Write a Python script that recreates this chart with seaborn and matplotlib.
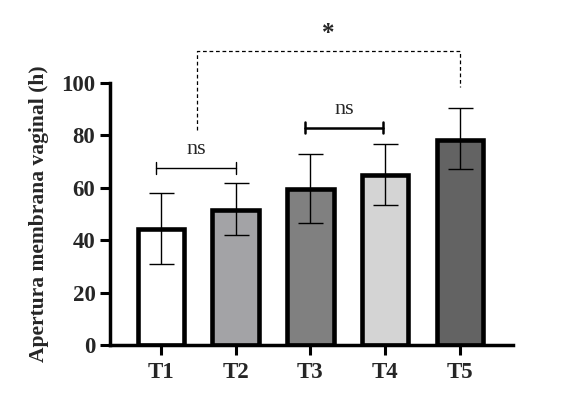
import matplotlib
matplotlib.use("Agg")
import matplotlib.pyplot as plt
import seaborn as sns
import numpy as np

# Chart data
groups = ["T1", "T2", "T3", "T4", "T5"]
means = [44.4, 51.7, 59.6, 64.7, 78.4]
err_low = [13.5, 9.7, 12.9, 11.4, 11.4]
err_high = [13.8, 10.1, 13.4, 12.0, 12.0]
bar_colors = ["#FFFFFF", "#A3A2A7", "#808080", "#D4D4D4", "#636363"]

sns.set_theme(style="ticks")
plt.rcParams["font.family"] = ["Liberation Serif", "DejaVu Serif"]

fig = plt.figure(figsize=(5.85, 4.08), dpi=100)
ax = fig.add_axes([110 / 585, 1 - 345 / 408, 403 / 585, 262 / 408])

sns.barplot(x=groups, y=means, hue=groups, palette=bar_colors, legend=False,
            width=0.62, edgecolor="black", linewidth=3.3, ax=ax, zorder=2)

xpos = np.arange(len(groups))
ax.errorbar(xpos, means, yerr=[err_low, err_high], fmt="none", ecolor="black",
            elinewidth=1.0, capsize=9, capthick=1.0, zorder=3)

ax.set_xlim(-0.68, 4.71)
ax.set_ylim(0, 100)
ax.set_yticks([0, 20, 40, 60, 80, 100])
ax.set_xlabel("")
ax.set_ylabel("Apertura membrana vaginal (h)", fontsize=15.5, fontweight="bold", labelpad=9)

for s in ["top", "right"]:
    ax.spines[s].set_visible(False)
for s in ["left", "bottom"]:
    ax.spines[s].set_linewidth(2.5)
    ax.spines[s].set_color("black")
ax.tick_params(axis="both", width=2.2, length=7.5, color="black", labelsize=16.5)
ax.tick_params(axis="y", pad=3)
ax.tick_params(axis="x", pad=5)
for lab in ax.get_xticklabels() + ax.get_yticklabels():
    lab.set_fontweight("bold")

# ns brackets
def bracket(x1, x2, y, lw, text, ty):
    ax.plot([x1, x2], [y, y], color="black", lw=lw, clip_on=False)
    ax.plot([x1, x1], [y - 2.2, y + 2.2], color="black", lw=lw, clip_on=False)
    ax.plot([x2, x2], [y - 2.2, y + 2.2], color="black", lw=lw, clip_on=False)
    ax.text((x1 + x2) / 2, ty, text, ha="center", va="center", fontsize=16, clip_on=False)

bracket(-0.06, 1.0, 67.6, 1.0, "ns", 74.5)
bracket(1.93, 2.97, 83.0, 1.8, "ns", 90.0)

# significance bracket with star
ax.plot([0.48, 0.48, 4.0, 4.0], [82, 112.3, 112.3, 98.6], color="black", lw=0.9,
        ls=(0, (3, 2.2)), clip_on=False)
ax.text(2.24, 119, "*", ha="center", va="center", fontsize=18, fontweight="bold", clip_on=False)

fig.savefig("out.png", dpi=100)
